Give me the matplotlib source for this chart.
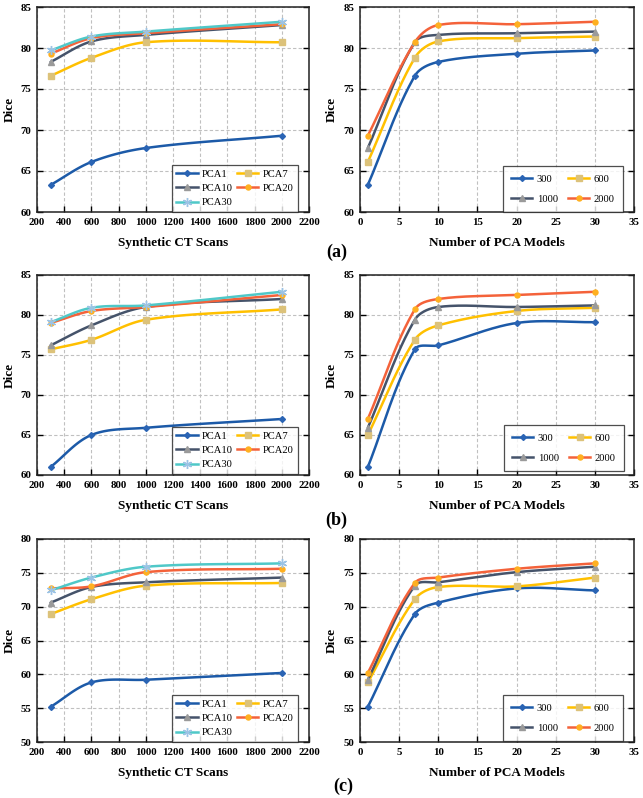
import numpy as np
import matplotlib
matplotlib.use("Agg")
import matplotlib.pyplot as plt
from matplotlib.lines import Line2D

plt.rcParams['font.family'] = ['Liberation Serif', 'DejaVu Serif']

# ---------------- data ----------------
scans = [300, 600, 1000, 2000]
pca_models = [1, 7, 10, 20, 30]
pca_names = ["PCA1", "PCA7", "PCA10", "PCA20", "PCA30"]
scan_names = ["300", "600", "1000", "2000"]

# Dice[pca][scans]  (panel a)
dice_a_pca1 = [63.3, 66.1, 67.8, 69.3]
dice_a_pca7 = [76.6, 78.8, 80.7, 80.7]
dice_a_pca10 = [78.3, 80.8, 81.6, 82.8]
dice_a_pca20 = [79.3, 81.2, 81.8, 82.9]
dice_a_pca30 = [79.7, 81.4, 82.0, 83.2]

# panel b
dice_b_pca1 = [61.0, 65.0, 65.9, 67.0]
dice_b_pca7 = [75.7, 76.9, 79.4, 80.7]
dice_b_pca10 = [76.2, 78.7, 81.0, 82.0]
dice_b_pca20 = [79.0, 80.5, 81.0, 82.5]
dice_b_pca30 = [79.1, 80.9, 81.2, 82.9]

# panel c
dice_c_pca1 = [55.2, 58.8, 59.2, 60.2]
dice_c_pca7 = [68.9, 71.1, 73.1, 73.5]
dice_c_pca10 = [70.6, 72.9, 73.6, 74.3]
dice_c_pca20 = [72.7, 73.0, 75.1, 75.6]
dice_c_pca30 = [72.4, 74.3, 75.9, 76.4]

panels = [
    ("(a)", [dice_a_pca1, dice_a_pca7, dice_a_pca10, dice_a_pca20, dice_a_pca30], (60, 85)),
    ("(b)", [dice_b_pca1, dice_b_pca7, dice_b_pca10, dice_b_pca20, dice_b_pca30], (60, 85)),
    ("(c)", [dice_c_pca1, dice_c_pca7, dice_c_pca10, dice_c_pca20, dice_c_pca30], (50, 80)),
]

# ---------------- styles ----------------
line_colors = ["#1c5aa8", "#ffc000", "#45536a", "#f4623a", "#4fc8c8"]
marker_styles = ["D", "s", "^", "o", (6, 2, 0)]
marker_colors = ["#2a64b4", "#dcc27a", "#9a9a9a", "#ffb020", "#9cc3e5"]
marker_sizes = [3.0, 3.8, 3.8, 3.6, 6.5]

W, H = 643, 798
fig = plt.figure(figsize=(W / 100, H / 100), dpi=100)


def rect(x0, x1, y0, y1):
    return [x0 / W, 1 - y1 / H, (x1 - x0) / W, (y1 - y0) / H]


def smooth(ax, xs, ys, wpx, hpx, k=0.33):
    # smoothed curve through the points (cubic Bezier, chord-scaled tangents), in pixel space
    xl, yl = ax.get_xlim(), ax.get_ylim()
    px = (np.asarray(xs, float) - xl[0]) / (xl[1] - xl[0]) * wpx
    py = (np.asarray(ys, float) - yl[0]) / (yl[1] - yl[0]) * hpx
    P = np.column_stack([px, py])
    n = len(P)
    tang = []
    for i in range(n):
        a = P[i - 1] if i > 0 else P[i]
        b = P[i + 1] if i < n - 1 else P[i]
        d = b - a
        tang.append(d / (np.linalg.norm(d) + 1e-12))
    out = []
    t = np.linspace(0, 1, 40)
    for i in range(n - 1):
        p1, p2 = P[i], P[i + 1]
        L = np.linalg.norm(p2 - p1)
        c1 = p1 + tang[i] * L * k
        c2 = p2 - tang[i + 1] * L * k
        seg = ((1 - t)[:, None] ** 3 * p1 + 3 * ((1 - t) ** 2 * t)[:, None] * c1
               + 3 * ((1 - t) * t ** 2)[:, None] * c2 + (t ** 3)[:, None] * p2)
        out.append(seg if i == 0 else seg[1:])
    out = np.vstack(out)
    return (xl[0] + out[:, 0] / wpx * (xl[1] - xl[0]),
            yl[0] + out[:, 1] / hpx * (yl[1] - yl[0]))


def style_axes(ax, xlim, xticks, ylim):
    ax.set_xlim(*xlim)
    ax.set_ylim(*ylim)
    ax.set_xticks(xticks)
    ax.set_yticks(np.arange(ylim[0], ylim[1] + 0.1, 5))
    ax.grid(True, linestyle=(0, (3, 2)), color="#c0c0c0", linewidth=0.8)
    ax.set_axisbelow(True)
    ax.tick_params(direction="in", length=4, width=1, right=True, top=False,
                   labelsize=7.8, pad=4)
    for lab in ax.get_xticklabels() + ax.get_yticklabels():
        lab.set_fontweight("bold")
    for sp in ax.spines.values():
        sp.set_linewidth(1.1)
        sp.set_color("#222222")


def handles(idx, names):
    hs = []
    for i in idx:
        hs.append(Line2D([], [], color=line_colors[i], lw=1.8, marker=marker_styles[i],
                         markersize=marker_sizes[i], markerfacecolor=marker_colors[i],
                         markeredgecolor=marker_colors[i], label=names[i]))
    return hs


rows = [(7, 212), (275, 475), (539, 742)]
label_pos = [(337, 252), (336, 520), (343, 786)]
legL = [(177, 298, 158, 212), (188, 298, 424, 474), (177, 298, 684, 742)]
legR = [(503, 623, 163, 212), (515, 624, 422, 471), (513, 623, 686, 741)]

for r, (plabel, mat, ylim) in enumerate(panels):
    y0, y1 = rows[r]
    hpx = y1 - y0
    # left: Dice vs synthetic CT scans
    axL = fig.add_axes(rect(37, 309, y0, y1))
    style_axes(axL, (200, 2200), np.arange(200, 2201, 200), ylim)
    for i in range(5):
        sx, sy = smooth(axL, scans, mat[i], 272, hpx)
        axL.plot(sx, sy, color=line_colors[i], lw=1.8, zorder=3, solid_capstyle="round")
        axL.plot(scans, mat[i], linestyle="none", marker=marker_styles[i],
                 markersize=marker_sizes[i], markerfacecolor=marker_colors[i],
                 markeredgecolor=marker_colors[i], zorder=4)
    lx0, lx1, ly0, ly1 = legL[r]
    leg = axL.legend(handles=handles([0, 2, 4, 1, 3], pca_names), ncol=2, loc="lower right",
                     bbox_to_anchor=((lx1 - 37) / (309 - 37), (y1 - ly1) / (y1 - y0)),
                     borderaxespad=0, fontsize=7.6, frameon=True, fancybox=False,
                     handlelength=2.0, handletextpad=0.4, columnspacing=0.4,
                     labelspacing=0.45, borderpad=0.45)
    leg.get_frame().set_edgecolor("#222222")
    leg.get_frame().set_linewidth(0.9)
    leg.set_zorder(5)
    fig.text(173 / W, 1 - (y1 + 31) / H, "Synthetic CT Scans", ha="center", va="center",
             fontsize=9.5, fontweight="bold")
    fig.text(10 / W, 1 - (y0 + y1) / 2 / H, "Dice", ha="center", va="center",
             rotation=90, fontsize=9.5, fontweight="bold")

    # right: Dice vs number of PCA models
    axR = fig.add_axes(rect(360, 634, y0, y1))
    style_axes(axR, (0, 35), np.arange(0, 36, 5), ylim)
    for j in range(4):
        vals = [mat[k][j] for k in range(5)]
        sx, sy = smooth(axR, pca_models, vals, 274, hpx)
        axR.plot(sx, sy, color=line_colors[j], lw=1.8, zorder=3, solid_capstyle="round")
        axR.plot(pca_models, vals, linestyle="none", marker=marker_styles[j],
                 markersize=marker_sizes[j], markerfacecolor=marker_colors[j],
                 markeredgecolor=marker_colors[j], zorder=4)
    rx0, rx1, ry0, ry1 = legR[r]
    legr = axR.legend(handles=handles([0, 2, 1, 3], scan_names), ncol=2, loc="lower right",
                      bbox_to_anchor=((rx1 - 360) / (634 - 360), (y1 - ry1) / (y1 - y0)),
                      borderaxespad=0, fontsize=7.6, frameon=True, fancybox=False,
                      handlelength=2.0, handletextpad=0.4, columnspacing=1.0,
                      labelspacing=0.95, borderpad=0.8)
    legr.get_frame().set_edgecolor("#222222")
    legr.get_frame().set_linewidth(0.9)
    legr.set_zorder(5)
    fig.text(497 / W, 1 - (y1 + 31) / H, "Number of PCA Models", ha="center", va="center",
             fontsize=9.5, fontweight="bold")
    fig.text(332 / W, 1 - (y0 + y1) / 2 / H, "Dice", ha="center", va="center",
             rotation=90, fontsize=9.5, fontweight="bold")

    fig.text(label_pos[r][0] / W, 1 - label_pos[r][1] / H, plabel, ha="center", va="center",
             fontsize=13, fontweight="bold")

fig.savefig("out.png", dpi=100)
